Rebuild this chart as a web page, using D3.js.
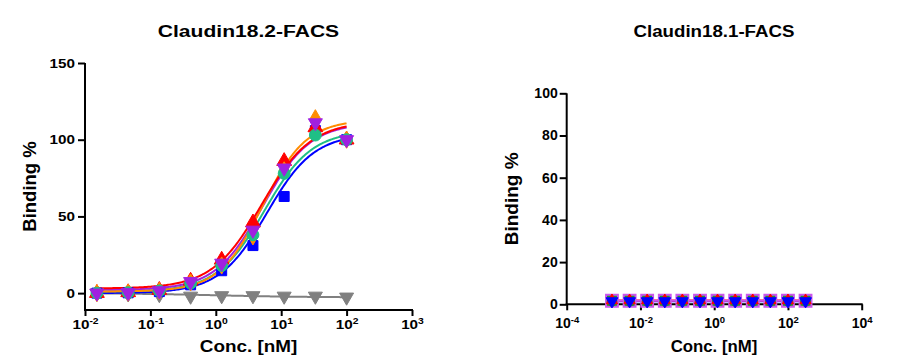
<!DOCTYPE html>
<html><head><meta charset="utf-8">
<script src="https://cdn.jsdelivr.net/npm/d3@7"></script>
<style>
body{margin:0;background:#fff}
text{font-family:"Liberation Sans",Arial,sans-serif;font-weight:bold;fill:#000}
</style>
</head><body>
<svg id="c" width="905" height="364"></svg>
<script>
// ---------- DATA: Claudin18.2-FACS ----------
const concA   = [0.0152, 0.0457, 0.137, 0.412, 1.23, 3.70, 11.1, 33.3, 100];
const grayA   = [0, -0.5, -1, -2, -1.7, -1.7, -2, -2, -2.6];
const blueA   = [0, 0.2, 1, 5.4, 14.6, 31, 63, 106, 100];
const redA    = [0, 0.5, 2, 8, 21.7, 46, 86, 108, 100];
const orangeA = [0, 0.3, 1.5, 7, 18, 37, 80, 114, 100];
const greenA  = [0, 0.3, 1.5, 6.5, 18, 38, 78, 103, 100];
const purpleA = [0, 0.3, 1.5, 7.5, 19.5, 41, 81.5, 111, 100];
// 4-parameter fit parameters per series (gray, blue, red, orange, green, purple)
const fitBottom = [0, 0, 3, 1, 1, 2];
const fitTop    = [-2.8, 104, 112, 113, 106, 111];
const fitEC50   = [1, 6.0, 5.0, 5.2, 5.5, 5.2];
const fitHill   = [0.6, 1.2, 1.15, 1.3, 1.2, 1.2];
const xTicksA = [-2, -1, 0, 1, 2, 3];
const yTicksA = [0, 50, 100, 150];

// ---------- DATA: Claudin18.1-FACS ----------
const concB    = [0.00169, 0.00508, 0.0152, 0.0457, 0.137, 0.412, 1.23, 3.70, 11.1, 33.3, 100, 300];
const violetB  = [1.7, 1.7, 1.7, 1.7, 1.7, 1.7, 1.7, 1.7, 1.7, 1.7, 1.7, 1.7];
const greenB   = [1.4, 1.4, 1.4, 1.4, 1.4, 1.4, 1.4, 1.4, 1.4, 1.4, 1.4, 1.4];
const redB     = [1.8, 1.8, 1.8, 1.8, 1.8, 1.8, 1.8, 1.8, 1.8, 1.8, 1.8, 1.8];
const blueB    = [1.5, 1.5, 1.5, 1.5, 1.5, 1.5, 1.5, 1.5, 1.5, 1.5, 1.5, 1.5];
const xTicksB = [-4, -2, 0, 2, 4];
const yTicksB = [0, 20, 40, 60, 80, 100];

const svg = d3.select("#c");

function fourPL(b, t, ec, h) {
  return x => b + (t - b) / (1 + Math.pow(10, (Math.log10(ec) - Math.log10(x)) * h));
}

function stretch(sel, sx) {
  sel.each(function() {
    const t = d3.select(this);
    const x = +(t.attr("x") || 0);
    const tr = t.attr("transform") || "";
    t.attr("x", x / sx).attr("transform", tr + ` scale(${sx},1)`);
  });
}

function drawAxes(g, x, y, xTicks, yTicks, title, cx, o) {
  const [x0, x1] = x.range();
  const [yb, yt] = y.range();
  const ya = g.append("g").attr("transform", `translate(${x0},0)`)
    .call(d3.axisLeft(y).tickValues(yTicks).tickSize(7).tickPadding(o.ypad).tickFormat(d3.format("d")));
  ya.select(".domain").attr("stroke", "#000").attr("stroke-width", 2).attr("d", `M0,${yb}V${yt}`);
  ya.selectAll(".tick line").attr("stroke", "#000").attr("stroke-width", 2);
  ya.selectAll(".tick text").style("font-size", o.tickFont + "px").attr("fill", "#000");
  stretch(ya.selectAll(".tick text"), o.tickSx);
  const xa = g.append("g").attr("transform", `translate(0,${yb})`)
    .call(d3.axisBottom(x).tickValues(xTicks.map(e => Math.pow(10, e))).tickSize(6).tickFormat(() => ""));
  xa.select(".domain").attr("stroke", "#000").attr("stroke-width", 2).attr("d", `M${x0 - 1},0H${x1 + 1}`);
  xa.selectAll(".tick line").attr("stroke", "#000").attr("stroke-width", 2);
  xa.selectAll(".tick text").each(function(d) {
    const e = Math.round(Math.log10(d));
    const t = d3.select(this).attr("y", o.xLabBase).attr("dy", null).style("font-size", o.tickFont + "px");
    t.text(null);
    t.append("tspan").text("10");
    t.append("tspan").attr("dy", -5).style("font-size", (o.tickFont * 0.68) + "px").text(e < 0 ? "-" + (-e) : String(e));
  });
  stretch(xa.selectAll(".tick text"), o.tickSx);
  const tt = g.append("text").attr("x", cx).attr("y", 37).attr("text-anchor", "middle").style("font-size", "17px").text(title);
  stretch(tt, o.titleSx);
  const xl = g.append("text").attr("x", cx).attr("y", 352).attr("text-anchor", "middle").style("font-size", "16px").text("Conc. [nM]");
  stretch(xl, o.xlabSx);
  g.append("text").attr("transform", `translate(${o.ylabX},${(yb + yt) / 2}) rotate(-90)`)
    .attr("text-anchor", "middle").style("font-size", o.ylabFont + "px").text("Binding %");
}

const symInvTri = {draw(ctx, size) {
  const s = Math.sqrt(size * 4 / Math.sqrt(3));
  const h = s * Math.sqrt(3) / 2;
  ctx.moveTo(-s / 2, -h / 3); ctx.lineTo(s / 2, -h / 3); ctx.lineTo(0, 2 * h / 3); ctx.closePath();
}};
const symTri = {draw(ctx, size) {
  const s = Math.sqrt(size * 4 / Math.sqrt(3));
  const h = s * Math.sqrt(3) / 2;
  ctx.moveTo(-s / 2, h / 3); ctx.lineTo(s / 2, h / 3); ctx.lineTo(0, -2 * h / 3); ctx.closePath();
}};

function drawPoints(g, x, y, conc, vals, sym, size, color, stroke, sw) {
  g.append("g").selectAll("path").data(vals).join("path")
    .attr("transform", (d, i) => `translate(${x(conc[i])},${y(d)})`)
    .attr("d", d3.symbol().type(sym).size(size)())
    .attr("fill", color)
    .attr("stroke", stroke || color).attr("stroke-width", sw || 1);
}

// ---------- LEFT CHART ----------
const xA = d3.scaleLog().domain([0.01, 1000]).range([85, 412]);
const yA = d3.scaleLinear().domain([-11, 150]).range([310, 63]);
const gA = svg.append("g");
drawAxes(gA, xA, yA, xTicksA, yTicksA, "Claudin18.2-FACS", 248.5,
  {tickFont: 12.5, tickSx: 1.22, ypad: 3, xLabBase: 19.5, titleSx: 1.24, xlabSx: 1.18, ylabX: 36, ylabFont: 18.5});

const colorsA = ["#808080", "#0000ff", "#ff0000", "#ff8c00", "#1fbf86", "#a020e0"];
const valsA = [grayA, blueA, redA, orangeA, greenA, purpleA];
const symsA = [symInvTri, d3.symbolSquare, symTri, d3.symbolDiamond, d3.symbolCircle, symInvTri];
const sizesA = [85, 100, 95, 85, 110, 85];

const curveXs = d3.range(0, 201).map(i => Math.pow(10, Math.log10(concA[0]) + i / 200 * (Math.log10(concA[concA.length - 1]) - Math.log10(concA[0]))));
const lineA = d3.line().x(d => xA(d[0])).y(d => yA(d[1])).curve(d3.curveLinear);

[0, 1, 4, 5, 3, 2].forEach(k => {
  const f = fourPL(fitBottom[k], fitTop[k], fitEC50[k], fitHill[k]);
  gA.append("path").datum(curveXs.map(c => [c, f(c)]))
    .attr("d", lineA).attr("fill", "none").attr("stroke", colorsA[k]).attr("stroke-width", 2);
});
[0, 1, 2, 3, 4, 5].forEach(k => drawPoints(gA, xA, yA, concA, valsA[k], symsA[k], sizesA[k], colorsA[k]));

// ---------- RIGHT CHART ----------
const xB = d3.scaleLog().domain([1e-4, 1e4]).range([566.7, 861.7]);
const yB = d3.scaleLinear().domain([0, 100]).range([304.3, 93.3]);
const gB = svg.append("g");
drawAxes(gB, xB, yB, xTicksB, yTicksB, "Claudin18.1-FACS", 714,
  {tickFont: 14, tickSx: 1.0, ypad: 2, xLabBase: 24, titleSx: 1.1, xlabSx: 1.05, ylabX: 518, ylabFont: 19});

const lineB = d3.line().x((d, i) => xB(concB[i])).y(d => yB(d));
[[blueB, "#0000ff"], [redB, "#ff0000"], [violetB, "#cc55ee"]].forEach(([v, c]) => {
  gB.append("path").datum(v).attr("d", lineB).attr("fill", "none").attr("stroke", c).attr("stroke-width", 2);
});
drawPoints(gB, xB, yB, concB, violetB, d3.symbolSquare, 140, "#1a9a2a", "#cc55ee", 2);
drawPoints(gB, xB, yB, concB, greenB, d3.symbolCircle, 75, "#1a9a2a");
drawPoints(gB, xB, yB, concB, redB, symTri, 55, "#ff0000");
drawPoints(gB, xB, yB, concB, blueB, symInvTri, 60, "#0000ff");
</script>
</body></html>
